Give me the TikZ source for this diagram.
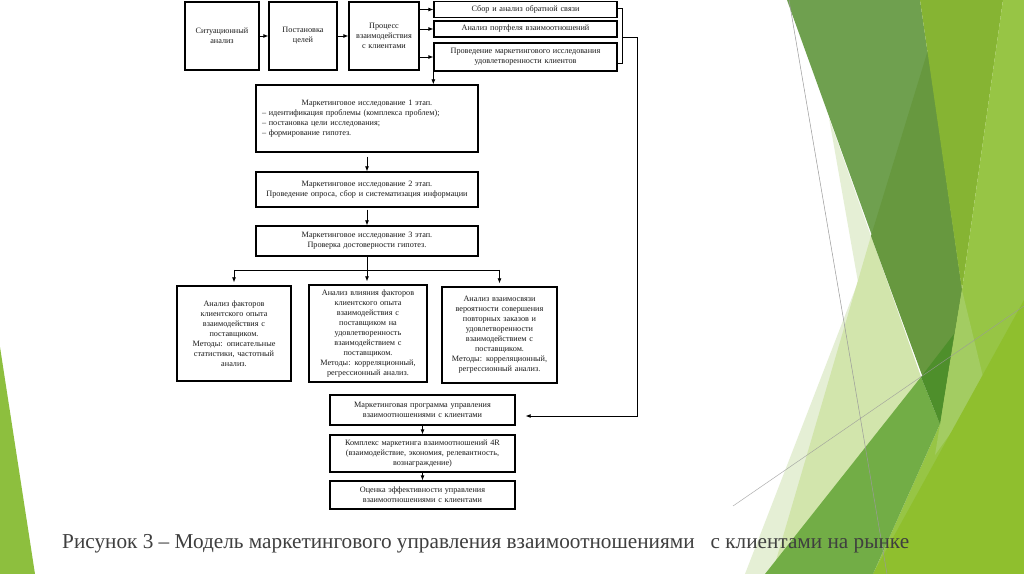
\documentclass[tikz,border=0pt]{standalone}
\usepackage{fontspec}
\setmainfont{Liberation Serif}
\usetikzlibrary{arrows.meta,calc}
\definecolor{txt}{HTML}{1A1A1A}
\definecolor{capgray}{HTML}{3F3F3F}
\definecolor{pOne}{HTML}{E5EFD5}
\definecolor{pTwo}{HTML}{D2E5AC}
\definecolor{dLight}{HTML}{6FA04F}
\definecolor{dDark}{HTML}{67983F}
\definecolor{olive}{HTML}{86B433}
\definecolor{limeA}{HTML}{97C545}
\definecolor{limeB}{HTML}{8FBF2E}
\definecolor{limeS}{HTML}{A3CC62}
\definecolor{midG}{HTML}{72AD46}
\definecolor{darkG}{HTML}{4E8F2B}
\definecolor{leftG}{HTML}{8DBF3E}
\definecolor{thin}{HTML}{9A9A9A}
\newcommand\boxfont{\fontsize{8.2bp}{10bp}\selectfont}
\newcommand\capfont{\fontsize{21.25bp}{25bp}\selectfont}
\begin{document}
\begin{tikzpicture}[x=1bp,y=-1bp,
  box/.style={draw=black, line width=1.3bp, inner sep=0pt, align=center, font=\boxfont, text=txt},
  arr/.style={line width=0.8bp, -{Latex[length=5bp,width=4bp]}},
  ln/.style={line width=0.8bp},
  deco/.style={line width=0.5bp, draw=thin}]
\useasboundingbox (0,0) rectangle (1024,574);
\fill[white] (0,0) rectangle (1024,574);
% decorative background shapes
\fill[leftG] (0,347) -- (35,574) -- (0,574) -- cycle;
\fill[pOne] (829,118) -- (858,282) -- (745,574) -- (800,574) -- (921,377) -- cycle;
\fill[pTwo] (871,236) -- (772,574) -- (800,574) -- (921,377) -- cycle;
\fill[dLight] (787,0) -- (920,0) -- (962,290) -- (940,424) -- cycle;
\fill[dDark] (928,50) -- (962,290) -- (940,424) -- (871,236) -- cycle;
\fill[olive] (920,0) -- (1003,0) -- (962,290) -- cycle;
\fill[limeA] (1003,0) -- (1024,0) -- (1024,574) -- (873,574) -- (940,424) -- (962,290) -- cycle;
\fill[limeS] (962,290) -- (985,385) -- (935,455) -- (940,424) -- cycle;
\fill[limeB] (1024,300) -- (1024,574) -- (873,574) -- cycle;
\fill[midG] (765,574) -- (921,377) -- (940,424) -- (873,574) -- cycle;
\fill[darkG] (921,377) -- (954,334) -- (940,424) -- cycle;
\draw[deco] (789,0) -- (887,574);
\draw[deco, draw opacity=0.8] (733,506) -- (1024,306);
% diagram boxes
\node[box, minimum width=74bp, minimum height=68bp, text width=70bp] (n1) at (222,36) {Ситуационный\\анализ};
\node[box, minimum width=68bp, minimum height=68bp, text width=64bp] (n2) at (303,36) {Постановка\\целей};
\node[box, minimum width=70bp, minimum height=68bp, text width=68bp] (n3) at (384,36) {Процесс\\взаимодействия\\с клиентами};
\node[box, minimum width=183bp, minimum height=15.5bp, text width=178bp] (r1) at (525.5,9.5) {Сбор и анализ обратной связи};
\node[box, minimum width=183bp, minimum height=16bp, text width=178bp] (r2) at (525.5,29) {Анализ портфеля взаимоотношений};
\node[box, minimum width=183bp, minimum height=28bp, text width=178bp] (r3) at (525.5,57) {Проведение маркетингового исследования\\удовлетворенности клиентов};
\node[box, minimum width=222bp, minimum height=67bp, text width=210bp, align=left] (s1) at (367,118.5) {\makebox[210bp][c]{Маркетинговое исследование 1 этап.}\\– идентификация проблемы (комплекса проблем);\\– постановка цели исследования;\\– формирование гипотез.};
\node[box, minimum width=222bp, minimum height=35bp, text width=216bp] (s2) at (367,189.5) {Маркетинговое исследование 2 этап.\\Проведение опроса, сбор и систематизация информации};
\node[box, minimum width=222bp, minimum height=30bp, text width=216bp] (s3) at (367,241) {Маркетинговое исследование 3 этап.\\Проверка достоверности гипотез.};
\node[box, minimum width=114bp, minimum height=95bp, text width=106bp] (a1) at (234,333.5) {Анализ факторов\\клиентского опыта\\взаимодействия с\\поставщиком.\\Методы: описательные\\статистики, частотный\\анализ.};
\node[box, minimum width=118bp, minimum height=97bp, text width=112bp] (a2) at (368,333.5) {Анализ влияния факторов\\клиентского опыта\\взаимодействия с\\поставщиком на\\удовлетворенность\\взаимодействием с\\поставщиком.\\Методы: корреляционный,\\регрессионный анализ.};
\node[box, minimum width=115bp, minimum height=96bp, text width=109bp] (a3) at (499.5,335) {Анализ взаимосвязи\\вероятности совершения\\повторных заказов и\\удовлетворенности\\взаимодействием с\\поставщиком.\\Методы: корреляционный,\\регрессионный анализ.};
\node[box, minimum width=185bp, minimum height=30bp, text width=179bp] (mp) at (422.5,410) {Маркетинговая программа управления\\взаимоотношениями с клиентами};
\node[box, minimum width=185bp, minimum height=37bp, text width=181bp] (km) at (422.5,453.5) {Комплекс маркетинга взаимоотношений 4R\\(взаимодействие, экономия, релевантность,\\вознаграждение)};
\node[box, minimum width=185bp, minimum height=28bp, text width=179bp] (oc) at (422.5,495) {Оценка эффективности управления\\взаимоотношениями с клиентами};
% connectors
\draw[arr] (n1) -- (n2);
\draw[arr] (n2) -- (n3);
\draw[arr] (n3.east |- r1.west) -- (r1.west);
\draw[arr] (n3.east |- r2.west) -- (r2.west);
\draw[arr] (n3.east |- r3.west) -- (r3.west);
\draw[ln] (617,8) -- (622,8) -- (622,63) -- (617,63);
\coordinate (fb) at (622,37);
\coordinate (fbc) at (637,416);
\draw[arr, shorten >=10bp] (fb) -- (fb -| fbc) -- (fbc) -- (mp.east |- fbc);
\draw[arr] (r3.south west) -- (r3.south west |- s1.north);
\draw[arr, shorten <=4bp] (s1.south) -- (s2.north);
\draw[arr, shorten <=2bp] (s2.south) -- (s3.north);
\coordinate (j) at (367,270);
\draw[ln] (s3.south) -- (j);
\draw[ln] (a1.north |- j) -- (a3.north |- j);
\draw[arr, shorten >=3bp] (a1.north |- j) -- (a1.north);
\draw[arr, shorten >=3bp] (j) -- (j |- a2.north);
\draw[arr, shorten >=3bp] (a3.north |- j) -- (a3.north);
\draw[arr] (mp.south) -- (km.north);
\draw[arr] (km.south) -- (oc.north);
% caption
\node[anchor=base west, font=\capfont, text=capgray, inner sep=0pt] (cap) at (62,548) {Рисунок 3 – Модель маркетингового управления взаимоотношениями\hspace{0.5em} с клиентами на рынке};
\end{tikzpicture}
\end{document}
